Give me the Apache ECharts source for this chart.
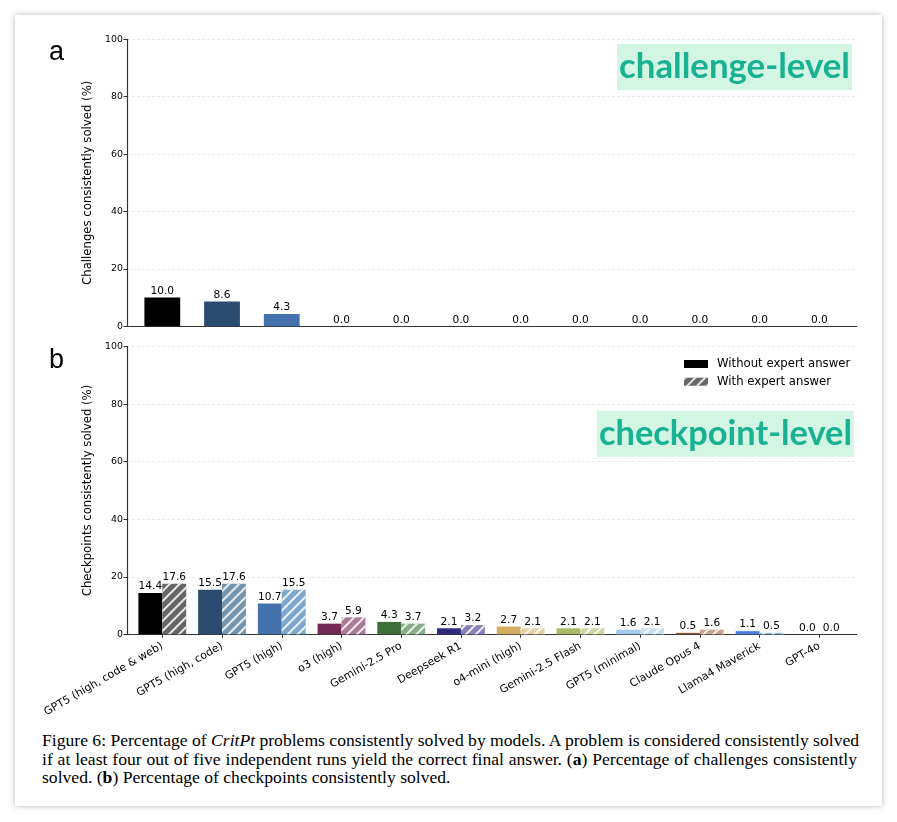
<!DOCTYPE html>
<html>
<head>
<meta charset="utf-8">
<script src="https://cdn.jsdelivr.net/npm/echarts@6/dist/echarts.min.js"></script>
<style>
  html, body { margin: 0; padding: 0; background: #ffffff; }
  #card { position: absolute; left: 15px; top: 15px; width: 867px; height: 791px; background: #fff;
          box-shadow: 0 0 6px rgba(0,0,0,0.28); }
  #chart { position: absolute; left: 0; top: 0; width: 897px; height: 722px; }
  #caption { position: absolute; left: 42px; top: 731px; width: 815px; font-family: 'Liberation Serif', 'DejaVu Serif', serif;
             font-size: 17.6px; line-height: 18.5px; color: #000; }
  #caption div { white-space: nowrap; }
  #caption .j { text-align: justify; text-align-last: justify; }
</style>
</head>
<body>
<div id="card"></div>
<div id="chart"></div>
<div id="caption">
  <div class="j">Figure 6: Percentage of <i>CritPt</i> problems consistently solved by models. A problem is considered consistently solved</div>
  <div class="j">if at least four out of five independent runs yield the correct final answer. (<b>a</b>) Percentage of challenges consistently</div>
  <div>solved. (<b>b</b>) Percentage of checkpoints consistently solved.</div>
</div>
<script>
const categories = ['GPT5 (high, code & web)', 'GPT5 (high, code)', 'GPT5 (high)', 'o3 (high)', 'Gemini-2.5 Pro',
  'Deepseek R1', 'o4-mini (high)', 'Gemini-2.5 Flash', 'GPT5 (minimal)', 'Claude Opus 4', 'Llama4 Maverick', 'GPT-4o'];
const challengeValues = [10.0, 8.6, 4.3, 0.0, 0.0, 0.0, 0.0, 0.0, 0.0, 0.0, 0.0, 0.0];
const checkpointWithout = [14.4, 15.5, 10.7, 3.7, 4.3, 2.1, 2.7, 2.1, 1.6, 0.5, 1.1, 0.0];
const checkpointWith = [17.6, 17.6, 15.5, 5.9, 3.7, 3.2, 2.1, 2.1, 2.1, 1.6, 0.5, 0.0];
const baseColors = ['#000000', '#2b4c6f', '#4470ab', '#722a52', '#3d7039', '#2f2a80',
  '#d4ad62', '#a9bb68', '#a6cbea', '#a0522d', '#4a7ede', '#888888'];
const hatchColors = ['#666666', '#7594ae', '#7ea7d0', '#aa7b95', '#88ae88', '#8a7fb8',
  '#e5d0a3', '#cbd8a2', '#c8def2', '#c9a291', '#8fb1ef', '#bbbbbb'];
const yTicks = { min: 0, max: 100, interval: 20 };
const seriesNames = ['Without expert answer', 'With expert answer'];

const idx = categories.map((c, i) => i);
const font = 'DejaVu Sans';
const hatch = {
  symbol: 'rect', symbolSize: 1, color: 'rgba(255,255,255,0.85)',
  dashArrayX: [1, 0], dashArrayY: [1.1, 4.2], rotation: -Math.PI / 4
};
const barLabel = {
  show: true, position: 'top', distance: 1, color: '#000', fontFamily: font, fontSize: 10.6,
  formatter: p => p.value[1].toFixed(1)
};

function xAxis(gridIndex, showLabels) {
  return {
    type: 'value', gridIndex, min: -0.591, max: 11.626,
    axisLine: { show: true, onZero: false, lineStyle: { color: '#333', width: 1.2 } },
    splitLine: { show: false },
    axisTick: { show: showLabels, length: 3.5, customValues: idx, lineStyle: { color: '#333' } },
    axisLabel: {
      show: showLabels, customValues: idx, rotate: 30, margin: 11, color: '#000',
      fontFamily: font, fontSize: 10.9, formatter: v => categories[Math.round(v)]
    }
  };
}
function yAxis(gridIndex, name) {
  return {
    type: 'value', gridIndex, min: yTicks.min, max: yTicks.max, interval: yTicks.interval,
    name, nameLocation: 'middle', nameGap: 31,
    nameTextStyle: { color: '#000', fontFamily: font, fontSize: 11.7 },
    axisLine: { show: true, onZero: false, lineStyle: { color: '#333', width: 1.2 } },
    axisTick: { show: true, length: 3.5, lineStyle: { color: '#333' } },
    axisLabel: { color: '#000', fontFamily: font, fontSize: 9.4, margin: 4 },
    splitLine: { show: true, lineStyle: { color: '#e6e6e6', width: 0.8, type: [3, 2] } }
  };
}

const chart = echarts.init(document.getElementById('chart'), null, { renderer: 'canvas' });
chart.setOption({
  animation: false,
  backgroundColor: 'transparent',
  grid: [
    { left: 127, top: 39.3, width: 729.7, height: 287 },
    { left: 127, top: 346.7, width: 729.7, height: 287.6 }
  ],
  title: [
    { text: 'a', left: 49, top: 39, padding: 0,
      textStyle: { fontFamily: 'Liberation Sans', fontSize: 27, fontWeight: 'normal', color: '#000' } },
    { text: 'b', left: 49, top: 347, padding: 0,
      textStyle: { fontFamily: 'Liberation Sans', fontSize: 27, fontWeight: 'normal', color: '#000' } },
    { text: 'challenge-level', right: 45, top: 44, padding: [2, 2, 2, 2], backgroundColor: '#d3f5e3',
      textStyle: { fontFamily: 'Lato', fontSize: 34.8, fontWeight: 'bold', color: '#18b292', lineHeight: 42 } },
    { text: 'checkpoint-level', right: 43, top: 410.7, padding: [2, 2, 2, 2], backgroundColor: '#d3f5e3',
      textStyle: { fontFamily: 'Lato', fontSize: 34.4, fontWeight: 'bold', color: '#18b292', lineHeight: 42 } }
  ],
  legend: {
    orient: 'vertical', left: 684, top: 357, padding: 0, itemWidth: 24, itemHeight: 8, itemGap: 3.7,
    icon: 'rect', data: seriesNames,
    textStyle: { fontFamily: font, fontSize: 11.7, color: '#000', lineHeight: 14, padding: [0, 0, 0, 4] }
  },
  xAxis: [xAxis(0, false), xAxis(1, true)],
  yAxis: [yAxis(0, 'Challenges consistently solved (%)'), yAxis(1, 'Checkpoints consistently solved (%)')],
  series: [
    {
      type: 'bar', name: 'challenge', xAxisIndex: 0, yAxisIndex: 0, barWidth: 35.8,
      data: challengeValues.map((v, i) => ({ value: [i, v], itemStyle: { color: baseColors[i] } })),
      label: barLabel
    },
    {
      type: 'bar', name: seriesNames[0], xAxisIndex: 1, yAxisIndex: 1, barWidth: 23.9, barGap: '0%',
      itemStyle: { color: '#000000' },
      data: checkpointWithout.map((v, i) => ({ value: [i, v], itemStyle: { color: baseColors[i] } })),
      label: barLabel
    },
    {
      type: 'bar', name: seriesNames[1], xAxisIndex: 1, yAxisIndex: 1, barWidth: 23.9, barGap: '0%',
      itemStyle: { color: '#666666', decal: hatch },
      data: checkpointWith.map((v, i) => ({ value: [i, v], itemStyle: { color: hatchColors[i] } })),
      label: barLabel
    }
  ]
});
</script>
</body>
</html>
